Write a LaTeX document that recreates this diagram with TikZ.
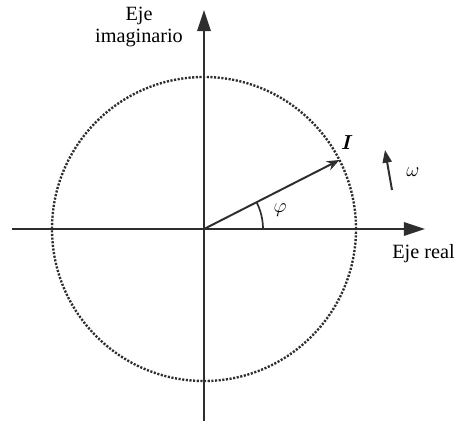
\documentclass[tikz,border=0pt]{standalone}
\usepackage{amsmath}
\usepackage{fontspec}
\setmainfont{Liberation Serif}
\usepackage{tikz}
\usetikzlibrary{arrows.meta}
\definecolor{axisgray}{HTML}{2E2E2E}
\tikzset{
  % --- axes and phasor ---
  axis/.style={line width=1.7pt, draw=axisgray,
               -{Triangle[length=15pt,width=9.5pt]}},
  phasor/.style={line width=1.4pt, draw=axisgray,
                 -{Stealth[length=9pt,width=7pt]}},
  rotarrow/.style={line width=1.4pt, draw=axisgray,
                   -{Triangle[length=9pt,width=6.5pt]}},
  locus/.style={line width=1.7pt, draw=axisgray,
                dash pattern=on 1.5pt off 1.1pt},
  axislabel/.style={font=\fontsize{14.4}{15}\selectfont, align=center,
                    inner sep=0pt},
  mathlabel/.style={font=\Large, inner sep=0pt},
}

\begin{document}
\begin{tikzpicture}
  \useasboundingbox (-5.1,-4.8) rectangle (6.275,5.725);
  % --- origin and axes ---
  \coordinate (O) at (0,0);
  \coordinate (xmin) at (-4.8,0);
  \coordinate (xmax) at (5.525,0);
  \coordinate (ymin) at (0,-4.8);
  \coordinate (ymax) at (0,5.475);
  \draw[locus] (O) circle[radius=3.8];
  \draw[axis] (xmin) -- (xmax);
  \draw[axis] (ymin) -- (ymax);
  \node[axislabel] (imlabel) at (-1.625,5.05) {Eje\\imaginario};
  \node[axislabel, anchor=north west] (relabel) at (4.7,-0.37) {Eje real};

  % --- phasor I and its angle ---
  \coordinate (tip) at (27:3.8);
  \draw[phasor] (O) -- (tip);
  \draw[line width=1.2pt, draw=axisgray] (1.475,0) arc[start angle=0,end angle=27,radius=1.475];
  \node[mathlabel] (phi) at (1.9,0.475) {$\varphi$};
  \node[mathlabel] (I) at (3.575,2.15) {$\boldsymbol{I}$};

  % --- sense of rotation ---
  \coordinate (wa) at (4.7,0.975);
  \coordinate (wb) at (4.525,1.975);
  \draw[rotarrow] (wa) -- (wb);
  \node[mathlabel] (omega) at (5.225,1.425) {$\omega$};
\end{tikzpicture}
\end{document}
